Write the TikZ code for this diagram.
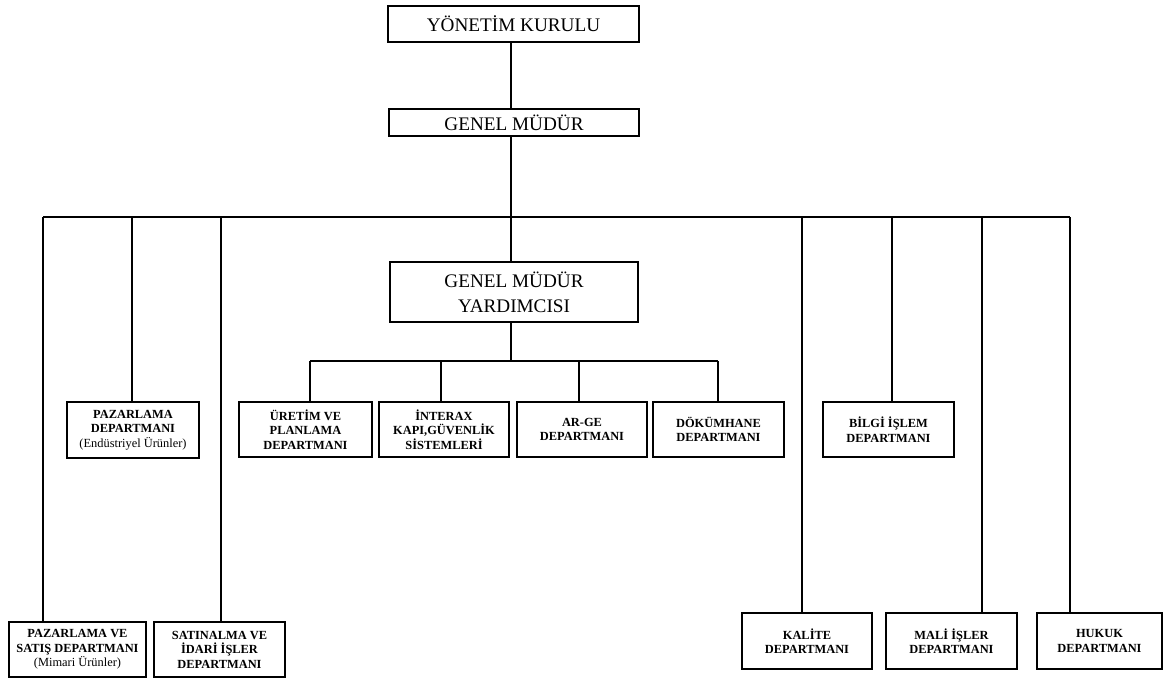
\documentclass[tikz,border=0pt]{standalone}
\usepackage{fontspec}
\setmainfont{Liberation Serif}
\begin{document}
\begin{tikzpicture}[x=1pt,y=-1pt]
\tikzset{
 bigbox/.style={draw, line width=2.2pt, font=\fontsize{19.2}{25}\selectfont, align=center, inner sep=0pt},
 smallbox/.style={draw, line width=2.2pt, font=\bfseries\fontsize{12.4}{14.6}\selectfont, align=center, inner sep=0pt},
 conn/.style={line width=1.6pt}
}
\useasboundingbox[fill=white] (0,0) rectangle (1166,679);
% boxes
\node[bigbox, minimum width=251pt, minimum height=36pt] (yk) at (513.5,24) {YÖNETİM KURULU};
\node[bigbox, minimum width=250pt, minimum height=27pt] (gm) at (514,122.5) {GENEL MÜDÜR};
\node[bigbox, minimum width=248pt, minimum height=60pt] (gmy) at (514,292) {GENEL MÜDÜR\\YARDIMCISI};
\node[smallbox, minimum width=132pt, minimum height=56pt] (pd) at (133,430) {PAZARLAMA\\DEPARTMANI\\{\mdseries(Endüstriyel Ürünler)}};
\node[smallbox, minimum width=133pt, minimum height=55pt] (ur) at (305.5,429.5) {ÜRETİM VE\\PLANLAMA\\DEPARTMANI};
\node[smallbox, minimum width=130pt, minimum height=55pt] (ix) at (444,429.5) {İNTERAX\\KAPI,GÜVENLİK\\SİSTEMLERİ};
\node[smallbox, minimum width=130pt, minimum height=55pt] (ar) at (582,429.5) {AR-GE\\DEPARTMANI};
\node[smallbox, minimum width=131pt, minimum height=55pt] (dk) at (718.5,429.5) {DÖKÜMHANE\\DEPARTMANI};
\node[smallbox, minimum width=131pt, minimum height=55pt] (bi) at (888.5,429.5) {BİLGİ İŞLEM\\DEPARTMANI};
\node[smallbox, minimum width=137pt, minimum height=55pt] (ps) at (77.5,649.5) {PAZARLAMA VE\\SATIŞ DEPARTMANI\\{\mdseries(Mimari Ürünler)}};
\node[smallbox, minimum width=131pt, minimum height=55pt] (sa) at (219.5,649.5) {SATINALMA VE\\İDARİ İŞLER\\DEPARTMANI};
\node[smallbox, minimum width=130pt, minimum height=56pt] (ka) at (807,641) {KALİTE\\DEPARTMANI};
\node[smallbox, minimum width=131pt, minimum height=56pt] (ma) at (951.5,641) {MALİ İŞLER\\DEPARTMANI};
\node[smallbox, minimum width=125pt, minimum height=56pt] (hu) at (1099.5,641) {HUKUK\\DEPARTMANI};
% spine
\coordinate (bus) at (511,217);
\coordinate (sub) at (511,361);
\draw[conn] (yk.south -| bus) -- (gm.north -| bus);
\draw[conn] (gm.south -| bus) -- (bus) -- (gmy.north -| bus);
\draw[conn] (gmy.south -| bus) -- (sub);
% main bus
\coordinate (b1) at (43,217);
\coordinate (b2) at (132,217);
\coordinate (b3) at (221,217);
\coordinate (b4) at (802,217);
\coordinate (b5) at (892,217);
\coordinate (b6) at (982,217);
\coordinate (b7) at (1070,217);
\draw[conn] (b1) -- (b7);
\draw[conn] (b1) -- (b1 |- ps.north);
\draw[conn] (b2) -- (b2 |- pd.north);
\draw[conn] (b3) -- (b3 |- sa.north);
\draw[conn] (b4) -- (b4 |- ka.north);
\draw[conn] (b5) -- (b5 |- bi.north);
\draw[conn] (b6) -- (b6 |- ma.north);
\draw[conn] (b7) -- (b7 |- hu.north);
% sub bus
\coordinate (s1) at (310,361);
\coordinate (s2) at (441,361);
\coordinate (s3) at (579,361);
\coordinate (s4) at (718,361);
\draw[conn] (s1) -- (s4);
\draw[conn] (s1) -- (s1 |- ur.north);
\draw[conn] (s2) -- (s2 |- ix.north);
\draw[conn] (s3) -- (s3 |- ar.north);
\draw[conn] (s4) -- (s4 |- dk.north);
\end{tikzpicture}
\end{document}
